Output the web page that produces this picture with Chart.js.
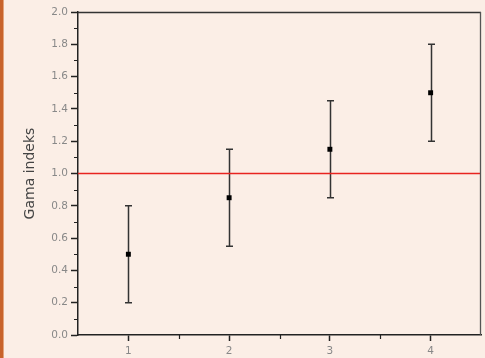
<!DOCTYPE html>
<html>
<head>
<meta charset="utf-8">
<script src="https://cdn.jsdelivr.net/npm/chart.js@4/dist/chart.umd.min.js"></script>
<style>
  html, body { margin: 0; padding: 0; background: #fbeee6; }
  #wrap { position: relative; width: 485px; height: 358px; overflow: hidden; }
  #strip { position: absolute; left: 0; top: 0; width: 3px; height: 358px; background: #c8632b; border-right: 1px solid #e3a47c; }
  canvas { position: absolute; left: 0; top: 0; }
</style>
</head>
<body>
<div id="wrap">
  <canvas id="c" width="485" height="358"></canvas>
  <div id="strip"></div>
</div>
<script>
// ---- data ----
const categories = [1, 2, 3, 4];
const meanValues = [0.5, 0.85, 1.15, 1.5];
const lowValues  = [0.2, 0.55, 0.85, 1.2];
const highValues = [0.8, 1.15, 1.45, 1.8];
const referenceLevel = 1.0;
const xRange = [0.5, 4.5];
const yRange = [0, 2];
const xTickValues = [1, 2, 3, 4];
const xTickLabels = ['1', '2', '3', '4'];
const xMinorTicks = [1.5, 2.5, 3.5];
const yTickValues = [0, 0.2, 0.4, 0.6, 0.8, 1.0, 1.2, 1.4, 1.6, 1.8, 2.0];
const yTickLabels = ['0.0', '0.2', '0.4', '0.6', '0.8', '1.0', '1.2', '1.4', '1.6', '1.8', '2.0'];
const yMinorTicks = [0.1, 0.3, 0.5, 0.7, 0.9, 1.1, 1.3, 1.5, 1.7, 1.9];
const yTitle = 'Gama indeks';

const points = categories.map((c, i) => ({ x: c, y: meanValues[i] }));
const refLine = xRange.map(x => ({ x: x, y: referenceLevel }));

const errorBars = {
  id: 'errorBars',
  beforeDatasetsDraw(chart) {
    const { ctx, scales: { x, y } } = chart;
    ctx.save();
    ctx.strokeStyle = '#333';
    ctx.lineWidth = 1.5;
    categories.forEach((c, i) => {
      const px = Math.round(x.getPixelForValue(c)) + 0.5;
      const pl = y.getPixelForValue(lowValues[i]);
      const ph = y.getPixelForValue(highValues[i]);
      ctx.beginPath();
      ctx.moveTo(px, pl); ctx.lineTo(px, ph);
      ctx.moveTo(px - 3.5, pl); ctx.lineTo(px + 3.5, pl);
      ctx.moveTo(px - 3.5, ph); ctx.lineTo(px + 3.5, ph);
      ctx.stroke();
    });
    ctx.restore();
  }
};

const frameAndMinor = {
  id: 'frameAndMinor',
  afterDraw(chart) {
    const { ctx, chartArea: a, scales: { x, y } } = chart;
    ctx.save();
    ctx.strokeStyle = '#333';
    ctx.lineWidth = 1.3;
    ctx.beginPath();
    ctx.moveTo(a.left, a.top + 0.5); ctx.lineTo(a.right, a.top + 0.5);
    ctx.stroke();
    ctx.strokeStyle = '#555';
    ctx.beginPath();
    ctx.moveTo(a.right - 0.5, a.top); ctx.lineTo(a.right - 0.5, a.bottom);
    ctx.stroke();
    ctx.strokeStyle = '#222';
    ctx.lineWidth = 1.2;
    ctx.beginPath();
    yMinorTicks.forEach(v => {
      const py = Math.round(y.getPixelForValue(v)) + 0.5;
      ctx.moveTo(a.left - 4, py); ctx.lineTo(a.left, py);
    });
    xMinorTicks.forEach(v => {
      const px = Math.round(x.getPixelForValue(v)) + 0.5;
      ctx.moveTo(px, a.bottom); ctx.lineTo(px, a.bottom + 4);
    });
    ctx.stroke();
    ctx.restore();
  }
};

new Chart(document.getElementById('c'), {
  data: {
    datasets: [
      {
        type: 'line',
        data: refLine,
        borderColor: '#e82420',
        borderWidth: 1.5,
        pointRadius: 0,
        fill: false,
        order: 2
      },
      {
        type: 'scatter',
        data: points,
        pointStyle: 'rect',
        pointRadius: 3.5,
        backgroundColor: '#000',
        borderColor: '#000',
        borderWidth: 0,
        order: 1
      }
    ]
  },
  options: {
    responsive: false,
    animation: false,
    devicePixelRatio: 1,
    layout: { padding: { left: 0, top: 12, right: 3, bottom: 0 } },
    plugins: { legend: { display: false }, tooltip: { enabled: false } },
    scales: {
      x: {
        type: 'linear',
        min: xRange[0], max: xRange[1],
        afterBuildTicks(s) { s.ticks = xTickValues.map(v => ({ value: v })); },
        afterFit(s) { s.height = 23; },
        ticks: {
          autoSkip: false, maxRotation: 0, padding: 4,
          color: '#888',
          font: { family: 'DejaVu Sans', size: 10.5 },
          callback: (v, i) => xTickLabels[i]
        },
        grid: { drawOnChartArea: false, drawTicks: true, tickLength: 6, tickColor: '#222', tickWidth: 1.5 },
        border: { display: true, color: '#222', width: 1.5 }
      },
      y: {
        type: 'linear',
        min: yRange[0], max: yRange[1],
        afterBuildTicks(s) { s.ticks = yTickValues.map(v => ({ value: v })); },
        afterFit(s) { s.width = 78; },
        ticks: {
          autoSkip: false, padding: 3,
          color: '#888',
          font: { family: 'DejaVu Sans', size: 10.5 },
          callback: (v, i) => yTickLabels[i]
        },
        title: {
          display: true, text: yTitle, color: '#444',
          font: { family: 'DejaVu Sans', size: 14 },
          padding: { top: 22, bottom: 0 }
        },
        grid: { drawOnChartArea: false, drawTicks: true, tickLength: 7, tickColor: '#222', tickWidth: 1.5 },
        border: { display: true, color: '#222', width: 1.5 }
      }
    }
  },
  plugins: [errorBars, frameAndMinor]
});
</script>
</body>
</html>
